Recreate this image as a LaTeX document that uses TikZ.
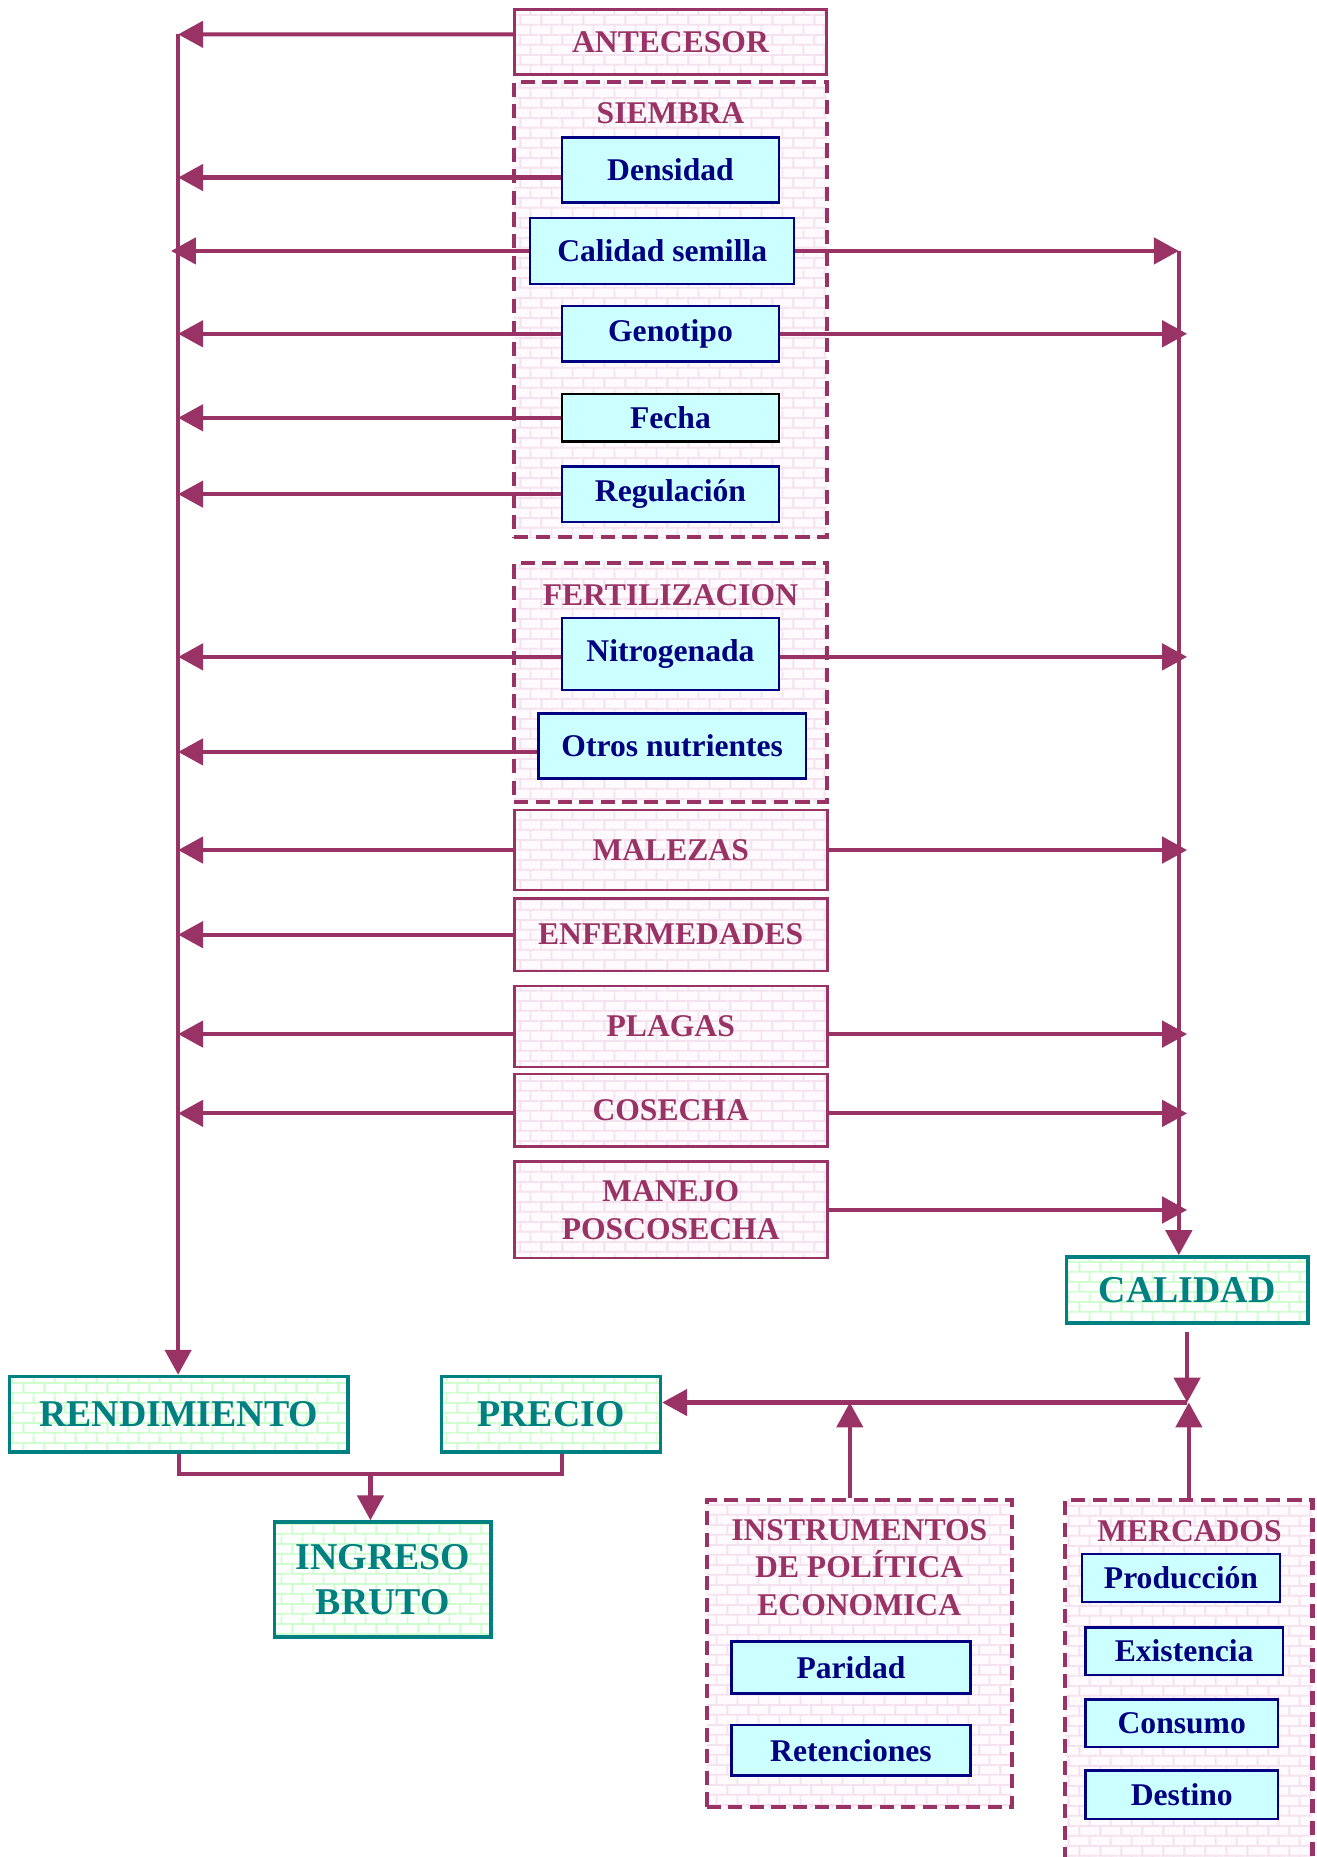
\documentclass[tikz,border=0pt]{standalone}
\usepackage{fontspec}
\setmainfont{Liberation Serif}
\usetikzlibrary{arrows.meta,patterns.meta}
\definecolor{cropmaroon}{HTML}{993366}
\definecolor{cropteal}{HTML}{008080}
\definecolor{cropnavy}{HTML}{000080}
\definecolor{cropcyan}{HTML}{CCFFFF}
\definecolor{pinkmortar}{HTML}{F5E2EF}
\definecolor{pinkbrick}{HTML}{FEFAFD}
\definecolor{greenmortar}{HTML}{CCFFCC}
\newcommand\cropfont{\bfseries\fontsize{7.6}{9.1}\selectfont}
\newcommand\cropbigfont{\bfseries\fontsize{9.1}{10.8}\selectfont}

% brick wall texture of the boxes
\tikzdeclarepattern{
  name=brickwall,
  type=uncolored,
  bottom left={(0cm,0cm)},
  top right={(0.175cm,0.17cm)},
  tile size={(0.175cm,0.17cm)},
  code={
    \draw[line width=0.45pt] (0cm,0.02cm) -- (0.175cm,0.02cm)
      (0cm,0.105cm) -- (0.175cm,0.105cm)
      (0.02cm,0.02cm) -- (0.02cm,0.105cm)
      (0.1075cm,0.105cm) -- (0.1075cm,0.17cm)
      (0.1075cm,0cm) -- (0.1075cm,0.02cm);
  }
}

\begin{document}
\begin{tikzpicture}[
  arr/.style={cropmaroon, line width=1pt, -{Triangle[length=6pt,width=6.3pt]}},
  conn/.style={cropmaroon, line width=1pt},
  pinkwall/.style={preaction={fill=pinkbrick}, pattern=brickwall, pattern color=pinkmortar},
  greenwall/.style={preaction={fill=white}, pattern=brickwall, pattern color=greenmortar},
  groupbox/.style={pinkwall, draw=cropmaroon, line width=1pt, dash pattern=on 3.4pt off 1.8pt, inner sep=0pt},
  factorbox/.style={pinkwall, draw=cropmaroon, line width=0.65pt, text=cropmaroon, font=\cropfont, align=center, inner sep=0pt},
  itembox/.style={fill=cropcyan, draw=cropnavy, line width=0.6pt, text=cropnavy, font=\cropfont, inner sep=0pt},
  resultbox/.style={greenwall, draw=cropteal, line width=0.85pt, text=cropteal, font=\cropbigfont, align=center, inner sep=0pt},
  grouptitle/.style={text=cropmaroon, font=\cropfont, align=center, inner sep=0pt}
]
  \useasboundingbox (0,0) rectangle (11.12,-15.69);
  \clip (0,0) rectangle (11.12,-15.69);

  % ── Group frames ──
  \node[groupbox, minimum width=2.64cm, minimum height=3.85cm] (siembra) at (5.665,-2.615) {};
  \node[groupbox, minimum width=2.64cm, minimum height=2.02cm] (fert) at (5.665,-5.768) {};
  \node[groupbox, minimum width=2.58cm, minimum height=2.60cm] (instr) at (7.26,-13.97) {};
  \node[groupbox, minimum width=2.09cm, minimum height=3.30cm] (merc) at (10.045,-14.32) {};

  \node[grouptitle] at (5.665,-0.96) {SIEMBRA};
  \node[grouptitle] at (5.665,-5.03) {FERTILIZACION};
  \node[grouptitle] at (7.26,-13.245) {INSTRUMENTOS\\DE POLÍTICA\\ECONOMICA};
  \node[grouptitle] at (10.05,-12.94) {MERCADOS};

  % ── Crop management factors ──
  \node[factorbox, minimum width=2.64cm, minimum height=0.55cm] (ante) at (5.665,-0.355) {ANTECESOR};
  \node[factorbox, minimum width=2.645cm, minimum height=0.675cm] (malezas) at (5.667,-7.182) {MALEZAS};
  \node[factorbox, minimum width=2.645cm, minimum height=0.615cm] (enferm) at (5.667,-7.897) {ENFERMEDADES};
  \node[factorbox, minimum width=2.645cm, minimum height=0.685cm] (plagas) at (5.667,-8.672) {PLAGAS};
  \node[factorbox, minimum width=2.645cm, minimum height=0.615cm] (cosecha) at (5.667,-9.382) {COSECHA};
  \node[factorbox, minimum width=2.645cm, minimum height=0.814cm] (manejo) at (5.667,-10.223) {MANEJO\\POSCOSECHA};

  % Items inside the groups
  \node[itembox, minimum width=1.83cm, minimum height=0.55cm] (dens) at (5.665,-1.435) {Densidad};
  \node[itembox, minimum width=2.23cm, minimum height=0.56cm] (semilla) at (5.595,-2.12) {Calidad semilla};
  \node[itembox, minimum width=1.83cm, minimum height=0.47cm] (genotipo) at (5.665,-2.82) {Genotipo};
  \node[itembox, draw=black, minimum width=1.83cm, minimum height=0.40cm] (fecha) at (5.665,-3.53) {Fecha};
  \node[itembox, minimum width=1.83cm, minimum height=0.47cm] (regul) at (5.665,-4.175) {Regulación};
  \node[itembox, minimum width=1.83cm, minimum height=0.61cm] (nitro) at (5.665,-5.525) {Nitrogenada};
  \node[itembox, minimum width=2.26cm, minimum height=0.546cm] (otros) at (5.68,-6.303) {Otros nutrientes};
  \node[itembox, minimum width=2.02cm, minimum height=0.44cm] (paridad) at (7.19,-14.09) {Paridad};
  \node[itembox, minimum width=2.02cm, minimum height=0.424cm] (reten) at (7.19,-14.788) {Retenciones};
  \node[itembox, minimum width=1.676cm, minimum height=0.406cm] (produc) at (9.978,-13.333) {Producción};
  \node[itembox, minimum width=1.67cm, minimum height=0.40cm] (exist) at (10.005,-13.95) {Existencia};
  \node[itembox, minimum width=1.63cm, minimum height=0.40cm] (consumo) at (9.985,-14.56) {Consumo};
  \node[itembox, minimum width=1.63cm, minimum height=0.41cm] (destino) at (9.985,-15.165) {Destino};

  % ── Results ──
  \node[resultbox, minimum width=2.04cm, minimum height=0.56cm] (calidad) at (10.03,-10.90) {CALIDAD};
  \node[resultbox, minimum width=2.86cm, minimum height=0.64cm] (rend) at (1.51,-11.95) {RENDIMIENTO};
  \node[resultbox, minimum width=1.85cm, minimum height=0.64cm] (precio) at (4.655,-11.95) {PRECIO};
  \node[resultbox, minimum width=1.83cm, minimum height=0.97cm] (ingreso) at (3.235,-13.345) {INGRESO\\BRUTO};

  % Bus lines
  \coordinate (leftbus) at (1.505,-0.29);
  \coordinate (rightbus) at (9.96,-2.12);
  \coordinate (junc) at (10.03,-11.85);
  \coordinate (mid) at (3.13,-12.455);

  % Arrows to the yield bus
  \draw[arr] (leftbus) -- (leftbus |- rend.north);
  \draw[arr] ([yshift=0.065cm]ante.west) -- (leftbus);
  \draw[arr] ([yshift=-0.065cm]dens.west) -- ([yshift=-0.065cm]dens.west -| leftbus);
  \draw[arr, shorten >=-0.06cm] (semilla.west) -- (semilla.west -| leftbus);
  \draw[arr] (genotipo.west) -- (genotipo.west -| leftbus);
  \draw[arr] (fecha.west) -- (fecha.west -| leftbus);
  \draw[arr] (regul.west) -- (regul.west -| leftbus);
  \draw[arr] ([yshift=-0.025cm]nitro.west) -- ([yshift=-0.025cm]nitro.west -| leftbus);
  \draw[arr] ([yshift=-0.05cm]otros.west) -- ([yshift=-0.05cm]otros.west -| leftbus);
  \draw[arr] (malezas.west) -- (malezas.west -| leftbus);
  \draw[arr] (enferm.west) -- (enferm.west -| leftbus);
  \draw[arr] ([yshift=-0.065cm]plagas.west) -- ([yshift=-0.065cm]plagas.west -| leftbus);
  \draw[arr] ([yshift=-0.025cm]cosecha.west) -- ([yshift=-0.025cm]cosecha.west -| leftbus);

  % Arrows to the quality bus
  \draw[arr] (rightbus) -- (rightbus |- calidad.north);
  \draw[arr] (semilla.east) -- (rightbus);
  \draw[arr, shorten >=-0.07cm] (genotipo.east) -- (genotipo.east -| rightbus);
  \draw[arr, shorten >=-0.07cm] ([yshift=-0.025cm]nitro.east) -- ([yshift=-0.025cm]nitro.east -| rightbus);
  \draw[arr, shorten >=-0.07cm] (malezas.east) -- (malezas.east -| rightbus);
  \draw[arr, shorten >=-0.07cm] ([yshift=-0.065cm]plagas.east) -- ([yshift=-0.065cm]plagas.east -| rightbus);
  \draw[arr, shorten >=-0.07cm] ([yshift=-0.025cm]cosecha.east) -- ([yshift=-0.025cm]cosecha.east -| rightbus);
  \draw[arr, shorten >=-0.07cm] (manejo.east) -- (manejo.east -| rightbus);

  % Price formation
  \draw[arr] ([yshift=-0.06cm]calidad.south) -- (junc);
  \draw[arr] (merc.north) -- (merc.north |- junc);
  \draw[arr] ([xshift=-0.08cm]instr.north) -- ([xshift=-0.08cm]instr.north |- junc);
  \draw[arr] (junc) -- (junc -| precio.east);

  % Gross income
  \draw[conn] (rend.south) |- (mid) -| ([xshift=0.095cm]precio.south);
  \draw[arr] (mid) -- (mid |- ingreso.north);
\end{tikzpicture}
\end{document}
